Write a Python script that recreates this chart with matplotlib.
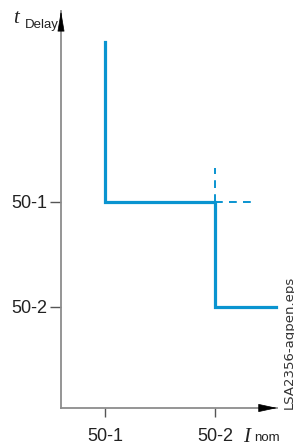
import matplotlib
matplotlib.use("Agg")
import matplotlib.pyplot as plt

# ---- data ----
x_tick_vals = [1, 2]
x_tick_labels = ["50-1", "50-2"]
y_tick_vals = [2, 1]
y_tick_labels = ["50-1", "50-2"]

curve_x = [1, 1, 2, 2, 2.55]
curve_y = [3.52, 2, 2, 1, 1]

dash_v_x = [2, 2]
dash_v_y = [2, 2.32]
dash_h_x = [2, 2.34]
dash_h_y = [2, 2]

BLUE = "#0a94d0"
GRAY = "#8c8c8c"

W, H = 294, 446
fig = plt.figure(figsize=(W / 100, H / 100), dpi=100)
ax = fig.add_axes([61 / W, 38 / H, (277 - 61) / W, (435 - 38) / H])

ax.set_xlim(0.6, 2.5636)
ax.set_ylim(0.0381, 3.819)

ax.plot(curve_x, curve_y, color=BLUE, lw=2.3, solid_joinstyle="miter", clip_on=False, zorder=3)
ax.plot(dash_v_x, dash_v_y, color=BLUE, lw=1.4, dashes=(4, 3.2), zorder=2)
ax.plot(dash_h_x, dash_h_y, color=BLUE, lw=1.4, dashes=(4, 3.2), zorder=2)

for s in ["top", "right"]:
    ax.spines[s].set_visible(False)
for s in ["left", "bottom"]:
    ax.spines[s].set_color(GRAY)
    ax.spines[s].set_linewidth(1.3)

ax.set_xticks(x_tick_vals)
ax.set_xticklabels(x_tick_labels)
ax.set_yticks(y_tick_vals)
ax.set_yticklabels(y_tick_labels)
ax.tick_params(axis="x", direction="out", length=6.5, width=1.0, color="#555555",
               pad=8, labelsize=13, labelcolor="#222222")
ax.tick_params(axis="y", direction="out", length=8, width=1.0, color="#555555",
               pad=1.5, labelsize=13, labelcolor="#222222")
for lab in ax.get_xticklabels() + ax.get_yticklabels():
    lab.set_fontfamily("Liberation Sans")

# arrow heads
ax.annotate("", xy=(0, 1), xytext=(0, 0.955), xycoords="axes fraction",
            arrowprops=dict(arrowstyle="-|>,head_length=1.3,head_width=0.22",
                            color="black", lw=0.5, shrinkA=0, shrinkB=0))
ax.annotate("", xy=(1, 0), xytext=(0.93, 0), xycoords="axes fraction",
            arrowprops=dict(arrowstyle="-|>,head_length=1.2,head_width=0.26",
                            color="black", lw=0.5, shrinkA=0, shrinkB=0))

# axis labels
fig.text(13 / W, 1 - 23 / H, "t", fontsize=15, fontstyle="italic",
         family="Liberation Serif", color="#222222", ha="left", va="baseline")
fig.text(25 / W, 1 - 28 / H, "Delay", fontsize=9.5, family="Liberation Sans",
         color="#222222", ha="left", va="baseline")
fig.text(243 / W, 1 - 442 / H, "I", fontsize=15, fontstyle="italic",
         family="Liberation Serif", color="#222222", ha="left", va="baseline")
fig.text(254 / W, 1 - 441 / H, "nom", fontsize=9.5, family="Liberation Sans",
         color="#222222", ha="left", va="baseline")

fig.text(289 / W, 1 - 409 / H, "LSA2356-agpen.eps", fontsize=9.5, rotation=90,
         family="DejaVu Sans", color="#333333", ha="center", va="bottom")

fig.savefig("out.png", dpi=100)
